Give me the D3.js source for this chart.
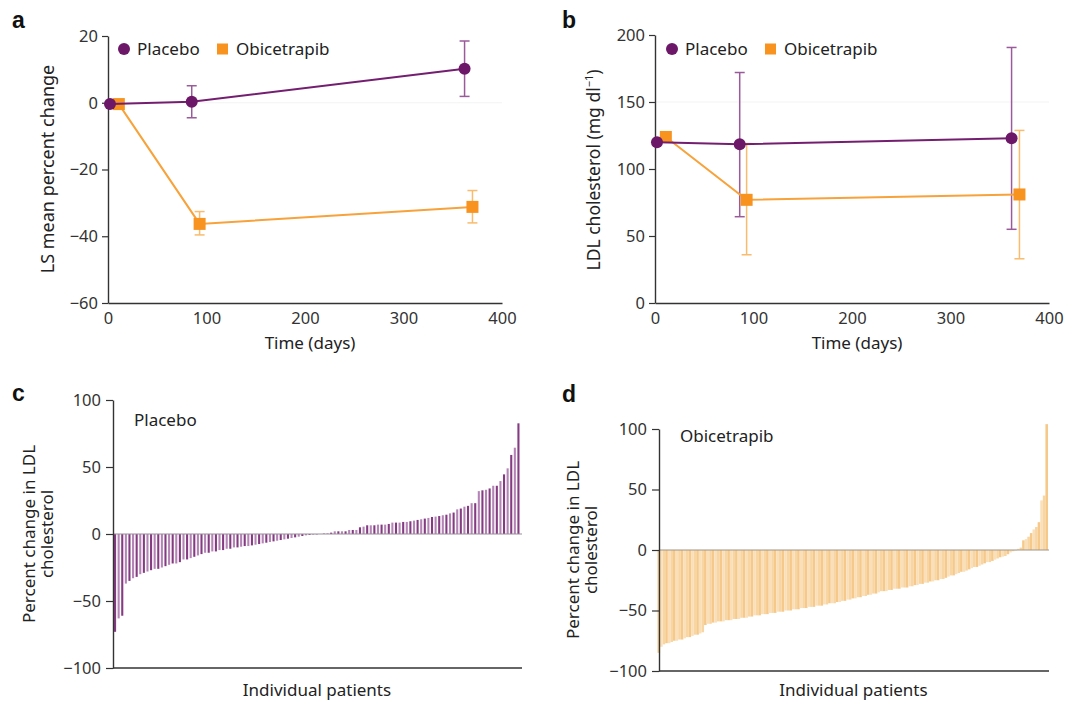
<!DOCTYPE html>
<html>
<head>
<meta charset="utf-8">
<script src="https://cdn.jsdelivr.net/npm/d3@7"></script>
<style>
  body { margin: 0; background: #fff; }
  svg { font-family: "Noto Sans", "Open Sans", sans-serif; }
</style>
</head>
<body>
<svg id="fig" width="1088" height="701"></svg>
<script>
// ---- panel a: LS mean percent change ----
const placeboDaysA = [2, 85, 362];
const placeboPct   = [-0.4, 0.3, 10.2];
const placeboPctLo = [-0.4, -4.5, 1.9];
const placeboPctHi = [-0.4, 5.1, 18.5];
const obiDaysA     = [11, 93, 370];
const obiPct       = [-0.4, -36.3, -31.2];
const obiPctLo     = [-0.4, -39.6, -36.0];
const obiPctHi     = [-0.4, -32.6, -26.3];

// ---- panel b: LDL cholesterol (mg/dl) ----
const placeboDaysB = [2, 86, 362];
const placeboLdl   = [120, 118.4, 123];
const placeboLdlLo = [120, 64.4, 55];
const placeboLdlHi = [120, 172, 190.7];
const obiDaysB     = [11, 93, 370];
const obiLdl       = [123.9, 77, 81];
const obiLdlLo     = [123.9, 36, 33];
const obiLdlHi     = [123.9, 119, 128.8];

const pctTicksA = [20, 0, -20, -40, -60];
const ldlTicks  = [200, 150, 100, 50, 0];
const dayTicks  = [0, 100, 200, 300, 400];
const waterfallTicks = [100, 50, 0, -50, -100];

// ---- panel c: per-patient percent change, placebo (sorted) ----
const placeboPatients = [
  -73, -63, -61, -37, -35, -33, -32, -30, -29, -28, -27, -26, -26, -25, -24, -23,
  -22, -22, -21, -19, -19, -18, -17, -16, -15, -14, -14, -13, -13, -12, -12, -11,
  -11, -10, -10, -9.5, -9, -9, -8.5, -8, -7.5, -7, -6.5, -6, -5.5, -5, -4.5, -4,
  -3.5, -3, -2.5, -2, -1.5, -1, -0.7, -0.5, -0.3, 0,
  0.3, 0.5, 1, 2, 2, 2, 2, 3, 3, 3, 5, 5.5, 6.5, 6.5, 6.5, 7, 7, 7, 7.5, 8.5, 8.5,
  8.5, 9, 9, 9.5, 10, 10.5, 11, 11.5, 12, 12.7, 13, 13.4, 14, 14.4, 15.4, 16, 18.4,
  19, 20.4, 21, 23, 23, 32, 32.6, 33, 34, 36, 36, 39.5, 44.5, 49, 59, 64.4, 82.6
];

// ---- panel d: per-patient percent change, obicetrapib (sorted) ----
const obiPatients = [
  -85, -80, -78, -77, -77, -76, -75, -75, -74, -74, -73, -72, -72, -71, -70, -70,
  -69, -68, -62, -61, -61, -60, -60, -59, -59, -59, -58, -58, -58, -57, -57, -57,
  -56, -56, -56, -55, -55, -54, -54, -54, -53, -53, -53, -52, -52, -52, -51, -51,
  -51, -50, -50, -50, -49, -49, -49, -48, -48, -48, -47, -47, -47, -46, -46, -46,
  -45, -45, -44, -44, -44, -43, -43, -42, -42, -41, -41, -40, -40, -39, -39, -38,
  -38, -37, -37, -36, -36, -35, -34, -34, -34, -33, -33, -32, -32, -32, -31, -31,
  -31, -30, -30, -29, -29, -28, -28, -27, -27, -26, -26, -25, -25, -24, -24, -23,
  -22, -21, -21, -20, -19, -18, -18, -17, -16, -15, -14, -14, -13, -12, -11, -10,
  -10, -9, -8, -7, -6, -5.5, -5, -3.5, -2, -1, -0.3, 1, 2, 8, 9, 11, 14, 17, 19,
  23, 41, 45, 104
];

const PURPLE = "#6c1767", PURPLE_LINE = "#741e70", PURPLE_ERR = "#9a5b9a";
const ORANGE = "#f7931e", ORANGE_LINE = "#f7a23a", ORANGE_ERR = "#f9bb6c";
const AXIS = "#333";
const TICK_FS = 16.5, LABEL_FS = 17;

(function () {
  const svg = d3.select("#fig");

  function styleAxis(g) {
    g.selectAll("path.domain").attr("stroke", AXIS).attr("stroke-width", 1.4);
    g.selectAll(".tick line").attr("stroke", AXIS).attr("stroke-width", 1.2);
    g.selectAll(".tick text").attr("fill", "#333").attr("font-size", TICK_FS)
      .attr("font-family", "'Noto Sans', sans-serif");
  }
  const fmt = d => d < 0 ? "\u2212" + Math.abs(d) : String(d);

  function linePanel(o) {
    const x = d3.scaleLinear().domain([0, 400]).range([o.x0, o.x1]);
    const y = d3.scaleLinear().domain(o.yDomain).range([o.y1, o.y0]);
    const g = svg.append("g");

    // faint reference line
    g.append("line")
      .attr("x1", o.x0).attr("x2", o.x1)
      .attr("y1", y(o.faint)).attr("y2", y(o.faint))
      .attr("stroke", "#f3f3f3").attr("stroke-width", 1);

    const gy = g.append("g").attr("transform", `translate(${o.x0},0)`)
      .call(d3.axisLeft(y).tickValues(o.yTicks).tickSize(6).tickPadding(4)
        .tickSizeOuter(0).tickFormat(fmt));
    styleAxis(gy);
    const gx = g.append("g").attr("transform", `translate(0,${o.y1})`)
      .call(d3.axisBottom(x).tickValues(dayTicks).tickSize(0).tickPadding(9)
        .tickSizeOuter(0));
    styleAxis(gx);

    const series = [
      { days: o.obiDays, v: o.obi, lo: o.obiLo, hi: o.obiHi, line: ORANGE_LINE, err: ORANGE_ERR, fill: ORANGE, shape: "square" },
      { days: o.plDays, v: o.pl, lo: o.plLo, hi: o.plHi, line: PURPLE_LINE, err: PURPLE_ERR, fill: PURPLE, shape: "circle" }
    ];

    series.forEach(s => {
      const eg = g.append("g");
      s.days.forEach((d, i) => {
        if (s.lo[i] === s.hi[i]) return;
        const cx = x(d);
        eg.append("line").attr("x1", cx).attr("x2", cx)
          .attr("y1", y(s.lo[i])).attr("y2", y(s.hi[i]));
        [s.lo[i], s.hi[i]].forEach(v => {
          eg.append("line").attr("x1", cx - 5).attr("x2", cx + 5)
            .attr("y1", y(v)).attr("y2", y(v));
        });
      });
      eg.attr("stroke", s.err).attr("stroke-width", 1.5);
    });

    series.forEach(s => {
      const pts = s.days.map((d, i) => [x(d), y(s.v[i])]);
      g.append("path").attr("d", d3.line()(pts))
        .attr("fill", "none").attr("stroke", s.line).attr("stroke-width", 2);
      pts.forEach(p => {
        if (s.shape === "circle") {
          g.append("circle").attr("cx", p[0]).attr("cy", p[1]).attr("r", 6).attr("fill", s.fill);
        } else {
          g.append("rect").attr("x", p[0] - 6).attr("y", p[1] - 6)
            .attr("width", 12).attr("height", 12).attr("fill", s.fill);
        }
      });
    });

    // legend
    const lg = g.append("g").attr("font-size", LABEL_FS).attr("fill", "#222");
    lg.append("circle").attr("cx", o.legX).attr("cy", 49).attr("r", 6).attr("fill", PURPLE);
    lg.append("text").attr("x", o.legX + 13).attr("y", 55).text("Placebo");
    lg.append("rect").attr("x", o.legX + 93).attr("y", 43.5).attr("width", 11).attr("height", 11).attr("fill", ORANGE);
    lg.append("text").attr("x", o.legX + 112).attr("y", 55).text("Obicetrapib");

    g.append("text").attr("x", (o.x0 + o.x1) / 2 + 5).attr("y", 349)
      .attr("text-anchor", "middle").attr("font-size", LABEL_FS).attr("fill", "#222")
      .text("Time (days)");
    return g;
  }

  // panel a
  linePanel({
    x0: 108, x1: 502, y0: 36, y1: 303, yDomain: [-60, 20], yTicks: pctTicksA, faint: 0,
    plDays: placeboDaysA, pl: placeboPct, plLo: placeboPctLo, plHi: placeboPctHi,
    obiDays: obiDaysA, obi: obiPct, obiLo: obiPctLo, obiHi: obiPctHi, legX: 124
  });
  svg.append("text").attr("transform", "translate(54,169) rotate(-90)")
    .attr("text-anchor", "middle").attr("font-size", 18).attr("fill", "#222")
    .text("LS mean percent change");

  // panel b
  linePanel({
    x0: 655, x1: 1049, y0: 35, y1: 303, yDomain: [0, 200], yTicks: ldlTicks, faint: 150,
    plDays: placeboDaysB, pl: placeboLdl, plLo: placeboLdlLo, plHi: placeboLdlHi,
    obiDays: obiDaysB, obi: obiLdl, obiLo: obiLdlLo, obiHi: obiLdlHi, legX: 672
  });
  const bl = svg.append("text").attr("transform", "translate(600,170) rotate(-90)")
    .attr("text-anchor", "middle").attr("font-size", 17.5).attr("fill", "#222");
  bl.append("tspan").text("LDL cholesterol (mg dl");
  bl.append("tspan").attr("font-size", 11).attr("dy", -7).text("\u22121");
  bl.append("tspan").attr("dy", 7).text(")");

  // waterfall panels
  function waterfall(o) {
    const x = d3.scaleBand().domain(d3.range(o.values.length)).range([o.x0, o.x1]).padding(o.pad);
    const y = d3.scaleLinear().domain([-100, 100]).range([o.y1, o.y0]);
    const g = svg.append("g");

    g.selectAll("rect.bar").data(o.values).join("rect")
      .attr("class", "bar")
      .attr("x", (d, i) => x(i))
      .attr("width", x.bandwidth())
      .attr("y", d => y(Math.max(0, d)))
      .attr("height", d => Math.abs(y(d) - y(0)))
      .attr("fill", (d, i) => o.color(i));

    g.append("line").attr("x1", o.ax).attr("x2", o.x1 + 1)
      .attr("y1", y(0)).attr("y2", y(0))
      .attr("stroke", o.zero).attr("stroke-width", 1.2);

    const gy = g.append("g").attr("transform", `translate(${o.ax},0)`)
      .call(d3.axisLeft(y).tickValues(waterfallTicks).tickSize(7).tickPadding(5)
        .tickSizeOuter(0).tickFormat(fmt));
    styleAxis(gy);
    g.append("line").attr("x1", o.ax).attr("x2", o.x1 + 1)
      .attr("y1", o.y1).attr("y2", o.y1).attr("stroke", AXIS).attr("stroke-width", 1.4);

    g.append("text").attr("x", o.labX).attr("y", o.labY).attr("font-size", LABEL_FS)
      .attr("fill", "#222").text(o.label);
    g.append("text").attr("x", (o.ax + o.x1) / 2).attr("y", 696)
      .attr("text-anchor", "middle").attr("font-size", LABEL_FS).attr("fill", "#222")
      .text("Individual patients");
    const yl = g.append("text").attr("transform", `translate(${o.ylX},${(o.y0 + o.y1) / 2}) rotate(-90)`)
      .attr("text-anchor", "middle").attr("font-size", LABEL_FS).attr("fill", "#222");
    yl.append("tspan").attr("x", 0).attr("y", 0).text("Percent change in LDL");
    yl.append("tspan").attr("x", 0).attr("y", 18).text("cholesterol");
  }

  waterfall({
    values: placeboPatients, x0: 112.5, x1: 521, ax: 113, y0: 400, y1: 668, pad: 0.42,
    color: i => i % 2 ? "#b584b6" : "#853b82", zero: "#9a8f9a",
    label: "Placebo", labX: 134, labY: 426, ylX: 35
  });
  waterfall({
    values: obiPatients, x0: 657.5, x1: 1048, ax: 659, y0: 429, y1: 671, pad: 0,
    color: i => i % 3 === 0 ? "#f6c98a" : (i % 3 === 1 ? "#fae0ba" : "#f8d6a4"), zero: "#a09585",
    label: "Obicetrapib", labX: 680, labY: 442, ylX: 579
  });

  // panel letters
  [["a", 12, 28], ["b", 562, 28], ["c", 12, 401], ["d", 562, 402]].forEach(([t, x, y]) => {
    svg.append("text").attr("x", x).attr("y", y).attr("font-size", 23)
      .attr("font-weight", "bold").attr("fill", "#111")
      .attr("font-family", "'Liberation Sans', Arial, sans-serif").text(t);
  });
})();
</script>
</body>
</html>
